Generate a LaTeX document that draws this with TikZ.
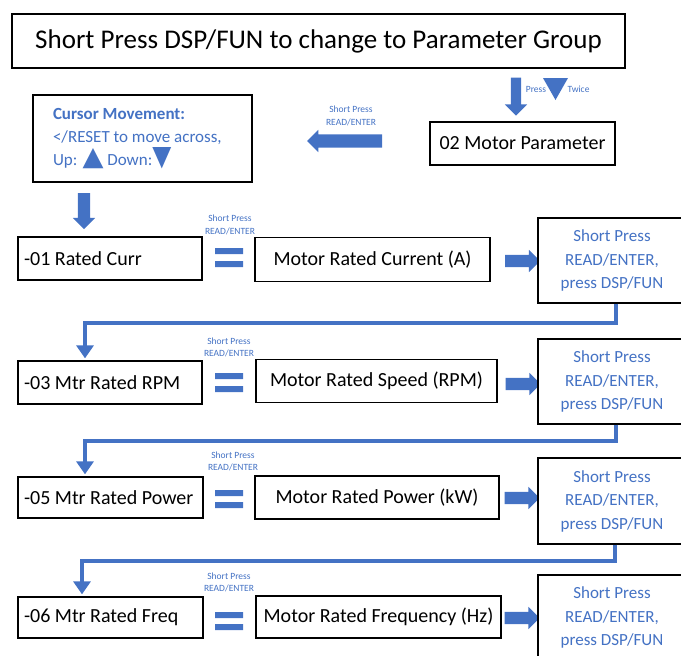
\documentclass[tikz,border=0pt]{standalone}
\usepackage{fontspec}
\usepackage{graphicx}
\setmainfont{Carlito}
\newfontfamily\dejavu{DejaVu Sans}
\usetikzlibrary{shapes.arrows,arrows.meta,calc}
\definecolor{blu}{HTML}{4472C4}
\begin{document}
\begin{tikzpicture}[x=1pt,y=-1pt,
  box/.style={draw=black, line width=1.3pt, fill=white, inner sep=0pt, font=\fontsize{20}{22}\selectfont},
  lbox/.style={box, minimum width=184, minimum height=43},
  bbox/.style={box, text=blu, align=center, font=\fontsize{17}{23.5}\selectfont},
  small/.style={text=blu, font=\fontsize{9.5}{12.5}\selectfont, inner sep=0pt, align=center},
  rarrow/.style={single arrow, fill=blu, draw=none, inner sep=6pt, single arrow head extend=5pt,
     single arrow head indent=0pt, minimum height=35pt, minimum width=1pt},
  conn/.style={draw=blu, line width=4pt, -{Triangle[width=17pt,length=13pt]}, shorten >=2pt}
]
\useasboundingbox (0,0) rectangle (681,656);
\clip (0,0) rectangle (681,656);

% title
\node[box, minimum width=613, minimum height=54, font=\fontsize{27}{30}\selectfont] (title) at (318.5,41)
  {Short Press DSP/FUN to change to Parameter Group};

% press twice
\node[rarrow, shape border rotate=270, inner sep=5pt, single arrow head extend=6pt, minimum height=38pt] (pa) at (516,94) {};
\node[small] (press) at (536,89) {Press};
\coordinate (tri) at (555.5,89);
\fill[blu] ($(tri)+(-12.5,-11)$) -- ($(tri)+(12.5,-11)$) -- ($(tri)+(0,11)$) -- cycle;
\node[small] (twice) at (578.5,89) {Twice};

% motor parameter
\node[box, minimum width=185, minimum height=43] (mp) at (522.5,143.5) {02 Motor Parameter};

% left arrow
\node[small] (s0) at (351,116) {Short Press\\READ/ENTER};
\node[rarrow, shape border rotate=180, minimum height=75pt, inner sep=6.5pt, single arrow head extend=4.5pt] (la) at (348,141) {};

% cursor box
\node[box, minimum width=219, minimum height=87, text width=179, align=left, text=blu,
  font=\fontsize{17}{23}\selectfont] (cur) at (142.5,138.5)
  {\spaceskip=0pt\xspaceskip=0pt\relax\textbf{Cursor Movement:}\\ </RESET to move across,\\ Up: \resizebox{21pt}{17pt}{\dejavu ▲} Down:\resizebox{19pt}{18pt}{\dejavu ▼}};

\node[rarrow, shape border rotate=270, minimum height=36pt] (da) at (84,208) {};

% row 1
\node[lbox] (l1) at (110,258.5) {\makebox[172pt][l]{-01 Rated Curr}};
\fill[blu] (215,248) rectangle (243,254) (215,261) rectangle (243,267);
\node[box, minimum width=235, minimum height=44] (m1) at (372.5,259.5) {Motor Rated Current (A)};
\node[rarrow] (r1) at (519.5,261) {};
\node[bbox, minimum width=148, minimum height=85] (b1) at (612,260.5) {Short Press\\READ/ENTER,\\press DSP/FUN};
\node[small] (s1) at (230,225) {Short Press\\READ/ENTER};

% row 2
\node[lbox] (l2) at (110,382.5) {\makebox[172pt][l]{-03 Mtr Rated RPM}};
\fill[blu] (215,373) rectangle (243,379) (215,386) rectangle (243,392);
\node[box, minimum width=241, minimum height=43] (m2) at (376.5,381) {Motor Rated Speed (RPM)};
\node[rarrow] (r2) at (520,384) {};
\node[bbox, minimum width=148, minimum height=85] (b2) at (612,381.5) {Short Press\\READ/ENTER,\\press DSP/FUN};
\node[small] (s2) at (229,347.5) {Short Press\\READ/ENTER};
\draw[conn] ([xshift=4pt]b1.south) -- ++(0,19) -| ([xshift=-25pt]l2.north);

% row 3
\node[lbox, minimum width=185, minimum height=41] (l3) at (110.5,497.5) {\makebox[173pt][l]{-05 Mtr Rated Power}};
\fill[blu] (215,490) rectangle (243,496) (215,502) rectangle (243,508);
\node[box, minimum width=244, minimum height=43] (m3) at (377,497.5) {Motor Rated Power (kW)};
\node[rarrow] (r3) at (519,498) {};
\node[bbox, minimum width=148, minimum height=86] (b3) at (612,501) {Short Press\\READ/ENTER,\\press DSP/FUN};
\node[small] (s3) at (233,461.5) {Short Press\\READ/ENTER};
\draw[conn] ([xshift=4pt]b2.south) -- ++(0,16) -| ([xshift=-25.5pt]l3.north);

% row 4
\node[lbox, minimum width=185, minimum height=41] (l4) at (110.5,617.5) {\makebox[173pt][l]{-06 Mtr Rated Freq}};
\fill[blu] (215,612) rectangle (243,618) (215,624) rectangle (243,630);
\node[box, minimum width=245, minimum height=42] (m4) at (378.5,617) {Motor Rated Frequency (Hz)};
\node[rarrow] (r4) at (519,618) {};
\node[bbox, minimum width=148, minimum height=85] (b4) at (612,617.5) {Short Press\\READ/ENTER,\\press DSP/FUN};
\node[small] (s4) at (229,582.5) {Short Press\\READ/ENTER};
\draw[conn] ([xshift=3pt]b3.south) -- ++(0,16) -| ([xshift=-28.5pt]l4.north);
\end{tikzpicture}
\end{document}
